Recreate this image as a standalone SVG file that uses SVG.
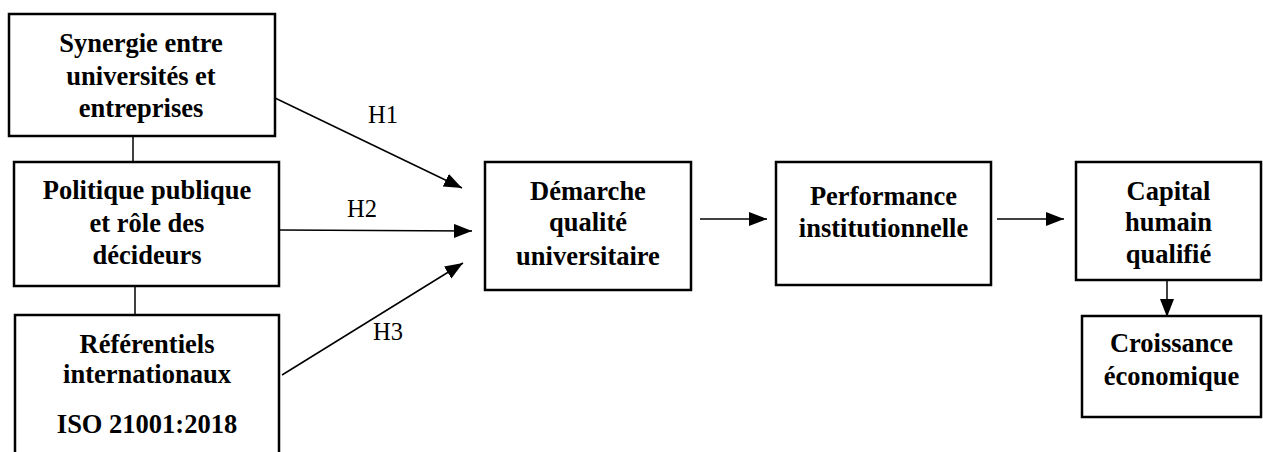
<svg xmlns="http://www.w3.org/2000/svg" width="1263" height="452" viewBox="0 0 1263 452">
<defs>
<marker id="ah" markerUnits="userSpaceOnUse" markerWidth="20" markerHeight="16" refX="18" refY="7" orient="auto">
<path d="M0,0 L18,7 L0,14 z" fill="#000"/>
</marker>
<style>
.box{fill:#fff;stroke:#000;stroke-width:2.5}
.t{font-family:"Liberation Serif","Times New Roman",serif;font-weight:bold;font-size:26.5px;text-anchor:middle;fill:#000}
.h{font-family:"Liberation Serif","Times New Roman",serif;font-size:24.5px;text-anchor:middle;fill:#000}
.c{stroke:#000;stroke-width:1.5;fill:none}
.a{stroke:#000;stroke-width:1.5;fill:none;marker-end:url(#ah)}
</style>
</defs>
<rect width="1263" height="452" fill="#fff"/>
<g id="connectors">
<line class="c" x1="133" y1="136" x2="133" y2="162"/>
<line class="c" x1="135" y1="286" x2="135" y2="315"/>
<line class="a" x1="275" y1="98" x2="462" y2="188"/>
<line class="a" x1="279" y1="230" x2="472" y2="231"/>
<line class="a" x1="282" y1="375" x2="463" y2="263"/>
<line class="a" x1="700" y1="219" x2="767" y2="219"/>
<line class="a" x1="997" y1="219" x2="1064" y2="219"/>
<line class="a" x1="1167" y1="280" x2="1167" y2="317"/>
<text class="h" x="383" y="123">H1</text>
<text class="h" x="362" y="217">H2</text>
<text class="h" x="388" y="340">H3</text>
</g>
<g id="synergie">
<rect class="box" x="9" y="14" width="266" height="122"/>
<text class="t" x="141" y="52">Synergie entre</text>
<text class="t" x="141" y="85">universités et</text>
<text class="t" x="141" y="117">entreprises</text>
</g>
<g id="politique">
<rect class="box" x="14" y="162" width="265" height="124"/>
<text class="t" x="147" y="199">Politique publique</text>
<text class="t" x="147" y="232">et rôle des</text>
<text class="t" x="147" y="264">décideurs</text>
</g>
<g id="referentiels">
<rect class="box" x="15" y="315" width="264" height="150"/>
<text class="t" x="147" y="353">Référentiels</text>
<text class="t" x="147" y="383">internationaux</text>
<text class="t" x="147" y="433">ISO 21001:2018</text>
</g>
<g id="demarche">
<rect class="box" x="485" y="162" width="206" height="128"/>
<text class="t" x="588" y="200">Démarche</text>
<text class="t" x="588" y="231">qualité</text>
<text class="t" x="588" y="265">universitaire</text>
</g>
<g id="performance">
<rect class="box" x="776" y="162" width="215" height="123"/>
<text class="t" x="883.5" y="205">Performance</text>
<text class="t" x="883.5" y="237">institutionnelle</text>
</g>
<g id="capital">
<rect class="box" x="1076" y="162" width="185" height="118"/>
<text class="t" x="1168.5" y="200">Capital</text>
<text class="t" x="1168.5" y="231">humain</text>
<text class="t" x="1168.5" y="263">qualifié</text>
</g>
<g id="croissance">
<rect class="box" x="1082" y="316" width="179" height="101"/>
<text class="t" x="1171.5" y="352">Croissance</text>
<text class="t" x="1171.5" y="385">économique</text>
</g>
</svg>
